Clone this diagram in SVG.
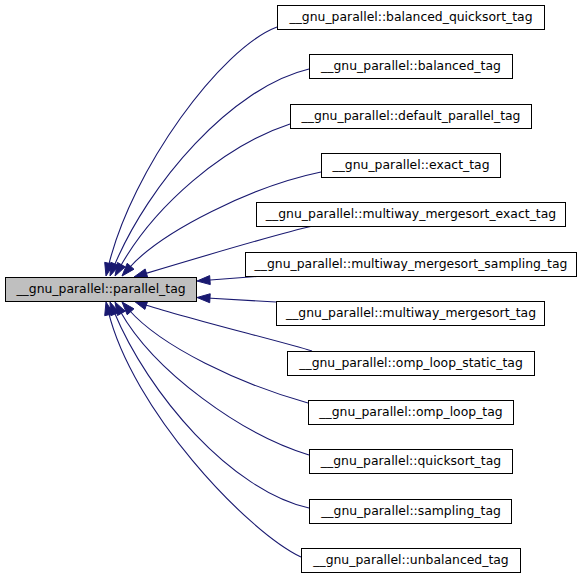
<svg xmlns="http://www.w3.org/2000/svg" width="581" height="577" viewBox="0 0 581 577">
<style>
.n rect{fill:#ffffff;stroke:#000000;stroke-width:1}
.n.main rect{fill:#bfbfbf}
.n text{font-family:"DejaVu Sans",sans-serif;font-size:12.4px;text-anchor:middle;fill:#000000}
.e path{fill:none;stroke:#191970;stroke-width:1.1}
.e polygon{fill:#191970;stroke:#191970;stroke-width:1}
</style>
<rect width="581" height="577" fill="#ffffff"/>
<g id="connectors" class="e">
<path d="M108.37,266.29 C132,169 221,48 277,27"/>
<polygon points="106,276 104.71,262.31 113.45,264.45"/>
<path d="M113.83,266.76 C148.3,183.6 231.4,87.4 309,69"/>
<polygon points="110,276 110.82,262.27 119.14,265.71"/>
<path d="M119.89,267.28 C154.1,206.2 223.5,145.7 290,124"/>
<polygon points="115,276 117.44,262.46 125.28,266.86"/>
<path d="M128.6,268.49 C161.6,230.9 253.1,186 321,172"/>
<polygon points="122,276 127.2,263.27 133.96,269.21"/>
<path d="M143.58,274.13 C181.9,262.6 283.7,232.3 313,226"/>
<polygon points="134,277 145.16,268.96 147.74,277.58"/>
<path d="M207,280.3 L263,276"/>
<polygon points="197,281 209.65,275.6 210.29,284.58"/>
<path d="M206.98,298.07 L276,302"/>
<polygon points="197,297.5 210.23,293.75 209.71,302.73"/>
<path d="M143.48,304.19 C181.4,317 283.5,342 312,351"/>
<polygon points="134,301 147.76,300.88 144.88,309.42"/>
<path d="M128.6,309.51 C161.6,347.1 240,384 308,403"/>
<polygon points="122,302 133.96,308.79 127.2,314.73"/>
<path d="M119.89,310.72 C154.1,371.8 242,434.7 309,455"/>
<polygon points="115,302 125.28,311.14 117.44,315.54"/>
<path d="M113.83,311.24 C148.3,394.4 231.4,490.6 309,508"/>
<polygon points="110,302 119.14,312.29 110.82,315.73"/>
<path d="M108.37,311.71 C132.07,408.8 245,530 301,557"/>
<polygon points="106,302 113.45,313.55 104.71,315.69"/>
</g>
<g id="parallel_tag" class="n main"><rect x="5.5" y="277.5" width="191" height="24"/><text x="101" y="292.5">__gnu_parallel::parallel_tag</text></g>
<g id="balanced_quicksort_tag" class="n"><rect x="277.5" y="5.5" width="267" height="24"/><text x="411" y="20.5">__gnu_parallel::balanced_quicksort_tag</text></g>
<g id="balanced_tag" class="n"><rect x="309.5" y="54.5" width="203" height="24"/><text x="411" y="69.5">__gnu_parallel::balanced_tag</text></g>
<g id="default_parallel_tag" class="n"><rect x="290.5" y="104.5" width="241" height="24"/><text x="411" y="119.5">__gnu_parallel::default_parallel_tag</text></g>
<g id="exact_tag" class="n"><rect x="321.5" y="153.5" width="179" height="24"/><text x="411" y="168.5">__gnu_parallel::exact_tag</text></g>
<g id="multiway_mergesort_exact_tag" class="n"><rect x="256.5" y="202.5" width="309" height="24"/><text x="411" y="217.5">__gnu_parallel::multiway_mergesort_exact_tag</text></g>
<g id="multiway_mergesort_sampling_tag" class="n"><rect x="245.5" y="252.5" width="331" height="24"/><text x="411" y="267.5">__gnu_parallel::multiway_mergesort_sampling_tag</text></g>
<g id="multiway_mergesort_tag" class="n"><rect x="276.5" y="301.5" width="268" height="24"/><text x="411" y="316.5">__gnu_parallel::multiway_mergesort_tag</text></g>
<g id="omp_loop_static_tag" class="n"><rect x="287.5" y="351.5" width="247" height="24"/><text x="411" y="366.5">__gnu_parallel::omp_loop_static_tag</text></g>
<g id="omp_loop_tag" class="n"><rect x="308.5" y="400.5" width="205" height="24"/><text x="411" y="415.5">__gnu_parallel::omp_loop_tag</text></g>
<g id="quicksort_tag" class="n"><rect x="309.5" y="449.5" width="203" height="24"/><text x="411" y="464.5">__gnu_parallel::quicksort_tag</text></g>
<g id="sampling_tag" class="n"><rect x="309.5" y="499.5" width="202" height="24"/><text x="411" y="514.5">__gnu_parallel::sampling_tag</text></g>
<g id="unbalanced_tag" class="n"><rect x="301.5" y="548.5" width="219" height="24"/><text x="411" y="563.5">__gnu_parallel::unbalanced_tag</text></g>
</svg>
